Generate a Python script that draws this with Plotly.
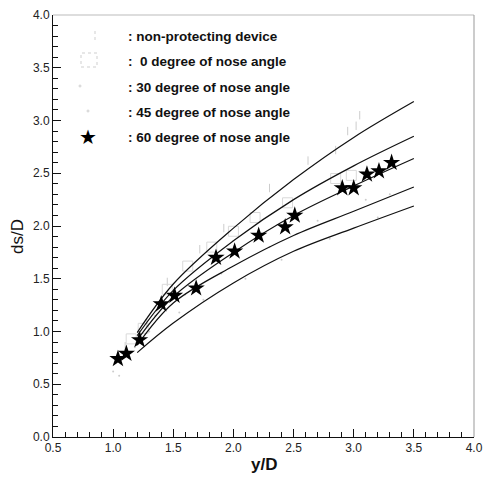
import plotly.graph_objects as go

# ---- data ----
curve_x = [1.2, 1.5, 2.0, 2.5, 3.0, 3.5]
curve_a = [0.99, 1.45, 1.98, 2.44, 2.84, 3.18]
curve_b = [0.96, 1.39, 1.86, 2.25, 2.57, 2.85]
curve_c = [0.92, 1.33, 1.75, 2.10, 2.38, 2.64]
curve_d = [0.87, 1.27, 1.62, 1.91, 2.14, 2.37]
curve_e = [0.80, 1.08, 1.46, 1.76, 1.98, 2.19]

star_x = [1.04, 1.11, 1.22, 1.40, 1.51, 1.69, 1.855, 2.01, 2.21, 2.43, 2.51, 2.905, 3.0, 3.11, 3.21, 3.315]
star_y = [0.74, 0.79, 0.92, 1.26, 1.34, 1.41, 1.70, 1.76, 1.91, 1.99, 2.10, 2.36, 2.36, 2.49, 2.52, 2.60]

# faint (scanned) symbols of the other series
np_x = [1.10, 1.28, 1.45, 1.72, 1.92, 2.30, 2.62, 2.85, 2.95, 3.05, 3.02]
np_y = [0.86, 1.08, 1.47, 1.78, 1.98, 2.36, 2.62, 2.72, 2.90, 3.05, 2.95]
d0_x = [1.15, 1.25, 1.45, 1.62, 1.82, 2.0, 2.18, 2.45, 2.85, 2.98]
d0_y = [0.93, 1.03, 1.40, 1.62, 1.80, 1.95, 2.08, 2.22, 2.45, 2.48]
d30_x = [1.0, 1.18, 1.35, 1.6, 1.9, 2.3, 2.7, 3.1, 3.3]
d30_y = [0.62, 0.85, 1.15, 1.35, 1.55, 1.80, 2.05, 2.25, 2.30]
d45_x = [1.05, 1.3, 1.55, 1.75, 2.1, 2.4, 2.8, 3.2]
d45_y = [0.58, 1.0, 1.18, 1.30, 1.50, 1.68, 1.88, 2.08]

x_ticks = [0.5, 1.0, 1.5, 2.0, 2.5, 3.0, 3.5, 4.0]
y_ticks = [0.0, 0.5, 1.0, 1.5, 2.0, 2.5, 3.0, 3.5, 4.0]

legend_labels = [": non-protecting device", ":  0 degree of nose angle",
                 ": 30 degree of nose angle", ": 45 degree of nose angle",
                 ": 60 degree of nose angle"]

fig = go.Figure()

faint = "#cccccc"
fig.add_trace(go.Scatter(x=np_x, y=np_y, mode="markers",
                         marker=dict(symbol="line-ns", size=6, color=faint, line=dict(color=faint, width=1)),
                         showlegend=False))
fig.add_trace(go.Scatter(x=d0_x, y=d0_y, mode="markers",
                         marker=dict(symbol="square-open", size=10, color="#d9d9d9",
                                     line=dict(color="#d9d9d9", width=1)),
                         showlegend=False))
fig.add_trace(go.Scatter(x=d30_x, y=d30_y, mode="markers",
                         marker=dict(symbol="circle", size=2, color=faint),
                         showlegend=False))
fig.add_trace(go.Scatter(x=d45_x, y=d45_y, mode="markers",
                         marker=dict(symbol="circle", size=2, color=faint),
                         showlegend=False))

for cy in [curve_a, curve_b, curve_c, curve_d, curve_e]:
    fig.add_trace(go.Scatter(x=curve_x, y=cy, mode="lines",
                             line=dict(color="#111", width=1.2, shape="spline", smoothing=1.0),
                             showlegend=False))

fig.add_trace(go.Scatter(x=star_x, y=star_y, mode="markers",
                         marker=dict(symbol="star", size=13, color="#000",
                                     line=dict(width=0)),
                         showlegend=False))

W, H = 485, 482
L, R, T, B = 53, 474, 15, 437          # screen pixels of the plot area
pw, ph = R - L, B - T

def px(xp):
    return (xp - L) / pw

def py(yp):
    return (B - yp) / ph

tickfont = dict(family="Liberation Sans, Arial, sans-serif", size=12, color="#222")

fig.update_layout(
    width=W, height=H,
    margin=dict(l=L, r=W - R, t=T, b=H - B, autoexpand=False),
    paper_bgcolor="white", plot_bgcolor="white",
    xaxis=dict(range=[0.5, 4.0], tickvals=x_ticks, ticktext=[f"{v:.1f}" for v in x_ticks],
               ticks="inside", ticklen=8, tickcolor="#111", tickwidth=1,
               minor=dict(dtick=0.1, tick0=0.5, ticks="inside", ticklen=5, tickcolor="#111"),
               showline=True, linecolor="#111", linewidth=1, automargin=False,
               showgrid=False, zeroline=False, tickfont=tickfont),
    yaxis=dict(range=[0.0, 4.0], tickvals=y_ticks, ticktext=[f"{v:.1f}" for v in y_ticks],
               ticks="inside", ticklen=8, tickcolor="#111", tickwidth=1,
               minor=dict(dtick=0.1, tick0=0.0, ticks="inside", ticklen=5, tickcolor="#111"),
               showline=True, linecolor="#111", linewidth=1, automargin=False,
               showgrid=False, zeroline=False, tickfont=tickfont),
    showlegend=False,
)

# top / right frame (faded in the scan)
fig.add_shape(type="line", xref="paper", yref="paper", x0=0, x1=1, y0=1, y1=1,
              line=dict(color="#bbbbbb", width=1))
fig.add_shape(type="line", xref="paper", yref="paper", x0=1, x1=1, y0=0, y1=1,
              line=dict(color="#999999", width=1))

# axis titles
fig.add_annotation(text="ds/D", xref="paper", yref="paper", x=px(17), y=py(237),
                   xanchor="center", yanchor="middle",
                   showarrow=False, textangle=-90,
                   font=dict(family="Liberation Sans, Arial, sans-serif", size=17, color="#111"))
fig.add_annotation(text="<b>y/D</b>", xref="paper", yref="paper", x=px(264), y=py(464),
                   xanchor="center", yanchor="middle",
                   showarrow=False,
                   font=dict(family="Liberation Sans, Arial, sans-serif", size=17, color="#111"))

# legend text
rows = [37, 62, 87, 112, 137]
for lab, ry in zip(legend_labels, rows):
    fig.add_annotation(text="<b>" + lab + "</b>", xref="paper", yref="paper",
                       x=px(126), y=py(ry), xanchor="left", yanchor="middle", showarrow=False,
                       font=dict(family="Liberation Sans, Arial, sans-serif", size=13.5, color="#111"))
# legend symbols
fig.add_annotation(text="★", xref="paper", yref="paper", x=px(88), y=py(137),
                   showarrow=False, xanchor="center", yanchor="middle",
                   font=dict(family="DejaVu Sans", size=20, color="#000"))
fig.add_shape(type="rect", xref="paper", yref="paper", x0=px(81), x1=px(97), y0=py(67), y1=py(53),
              line=dict(color="#cfcfcf", width=1, dash="dot"))
fig.add_shape(type="line", xref="paper", yref="paper", x0=px(95), x1=px(95), y0=py(40), y1=py(31),
              line=dict(color="#cfcfcf", width=1, dash="dot"))
fig.add_shape(type="circle", xref="paper", yref="paper", x0=px(79), x1=px(81), y0=py(87), y1=py(85),
              line=dict(color="#cfcfcf", width=1))
fig.add_shape(type="circle", xref="paper", yref="paper", x0=px(87), x1=px(89), y0=py(112), y1=py(110),
              line=dict(color="#cfcfcf", width=1))

# remove the default 8px page margin so the figure fills the window exactly
fig.write_html("out.html",
               config={"displayModeBar": False, "staticPlot": True},
               post_script="document.body.style.margin='0';document.body.style.overflow='hidden';")
